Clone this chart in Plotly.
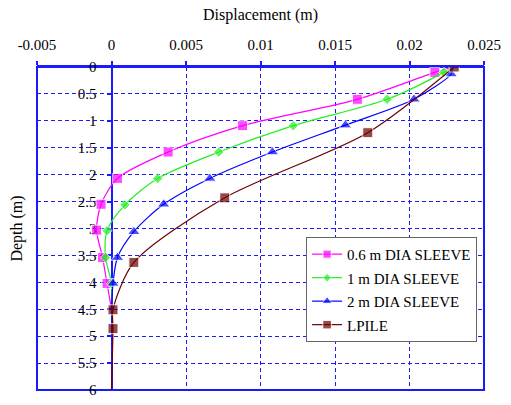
import plotly.graph_objects as go

# ---- data (displacement in m, depth in m) ----
series_names = ["0.6 m DIA SLEEVE", "1 m DIA SLEEVE", "2 m DIA SLEEVE", "LPILE"]

sleeve06_disp = [0.0229, 0.0217, 0.0165, 0.0088, 0.0038, 0.0004, -0.0007, -0.0010, -0.0006, -0.0003, 0.0]
sleeve06_depth = [0.0, 0.10, 0.60, 1.09, 1.58, 2.07, 2.55, 3.03, 3.54, 4.02, 4.5]

sleeve1_disp = [0.0229, 0.0223, 0.0185, 0.0122, 0.0072, 0.0031, 0.0009, -0.0003, -0.0004, 0.0000, 0.0]
sleeve1_depth = [0.0, 0.10, 0.60, 1.09, 1.58, 2.07, 2.56, 3.04, 3.54, 4.02, 4.5]

sleeve2_disp = [0.0229, 0.0228, 0.0203, 0.0157, 0.0108, 0.0066, 0.0035, 0.0015, 0.0004, 0.0001, 0.0]
sleeve2_depth = [0.0, 0.13, 0.60, 1.08, 1.58, 2.07, 2.55, 3.06, 3.54, 4.02, 4.5]

lpile_disp = [0.0230, 0.0172, 0.0076, 0.0015, 0.0001, 0.0001, 0.0]
lpile_depth = [0.0, 1.22, 2.43, 3.63, 4.51, 4.86, 6.0]

x_tickvals = [-0.005, 0, 0.005, 0.01, 0.015, 0.02, 0.025]
x_ticktext = ["-0.005", "0", "0.005", "0.01", "0.015", "0.02", "0.025"]
y_tickvals = [0, 0.5, 1, 1.5, 2, 2.5, 3, 3.5, 4, 4.5, 5, 5.5, 6]
y_ticktext = ["0", "0.5", "1", "1.5", "2", "2.5", "3", "3.5", "4", "4.5", "5", "5.5", "6"]

FONT = "Liberation Serif"
BLUE = "#1a1aff"

def sizes(n, s, first_hidden, last_hidden):
    arr = [s] * n
    if first_hidden:
        arr[0] = 0
    if last_hidden:
        arr[-1] = 0
    return arr

specs = [
    (sleeve06_disp, sleeve06_depth, "#ff00ff", "square", 10, True, True),
    (sleeve1_disp, sleeve1_depth, "#22ee22", "diamond", 8, True, True),
    (sleeve2_disp, sleeve2_depth, "#0000ff", "triangle-up", 11, True, True),
    (lpile_disp, lpile_depth, "#6b0000", "square", 10, False, True),
]

fig = go.Figure()
for i, (xs, ys, col, sym, ms, fh, lh) in enumerate(specs):
    fig.add_trace(go.Scatter(
        x=xs, y=ys, name=series_names[i], mode="lines+markers",
        line=dict(color=col, width=1.2, shape="spline", smoothing=0.8),
        marker=dict(color=col, symbol=sym, size=sizes(len(xs), ms, fh, lh)),
        legendgroup=f"g{i}",
    ))

fig.add_shape(type="rect", xref="paper", yref="paper", x0=0, y0=0, x1=1, y1=1,
              line=dict(color=BLUE, width=2), layer="below")

fig.update_layout(
    width=511, height=405,
    margin=dict(l=37, r=27, t=67, b=7),
    paper_bgcolor="white", plot_bgcolor="white",
    font=dict(family=FONT, size=14, color="black"),
    showlegend=True,
    legend=dict(x=0.602, y=0.474, xanchor="left", yanchor="top",
                bgcolor="white", bordercolor="#666666", borderwidth=1,
                font=dict(family=FONT, size=15, color="black"),
                traceorder="grouped", tracegroupgap=1),
    xaxis=dict(range=[-0.005, 0.025], side="top", tickvals=x_tickvals, ticktext=x_ticktext,
               showgrid=True, gridcolor=BLUE, griddash="4px,3px", gridwidth=1,
               showline=True, linecolor=BLUE, linewidth=2, zeroline=False,
               ticks="outside", ticklen=4, tickcolor=BLUE, tickwidth=1.5,
               ticklabelstandoff=5,
               tickfont=dict(family=FONT, size=15, color="black"),
               title=dict(text="Displacement (m)", font=dict(family=FONT, size=16, color="black"), standoff=12),
               layer="below traces"),
    yaxis=dict(range=[6, 0], anchor="free", position=1/6, tickvals=y_tickvals, ticktext=y_ticktext,
               showgrid=True, gridcolor=BLUE, griddash="4px,3px", gridwidth=1,
               showline=True, linecolor=BLUE, linewidth=2, zeroline=False,
               ticks="outside", ticklen=4, tickcolor=BLUE, tickwidth=1.5,
               ticklabelstandoff=7, ticklabeloverflow="allow",
               tickfont=dict(family=FONT, size=15, color="black"),
               title=dict(text="Depth (m)", font=dict(family=FONT, size=16, color="black"), standoff=50),
               layer="below traces"),
)

fig.write_html("out.html", config={"displayModeBar": False},
               post_script="document.body.style.margin='0';")
